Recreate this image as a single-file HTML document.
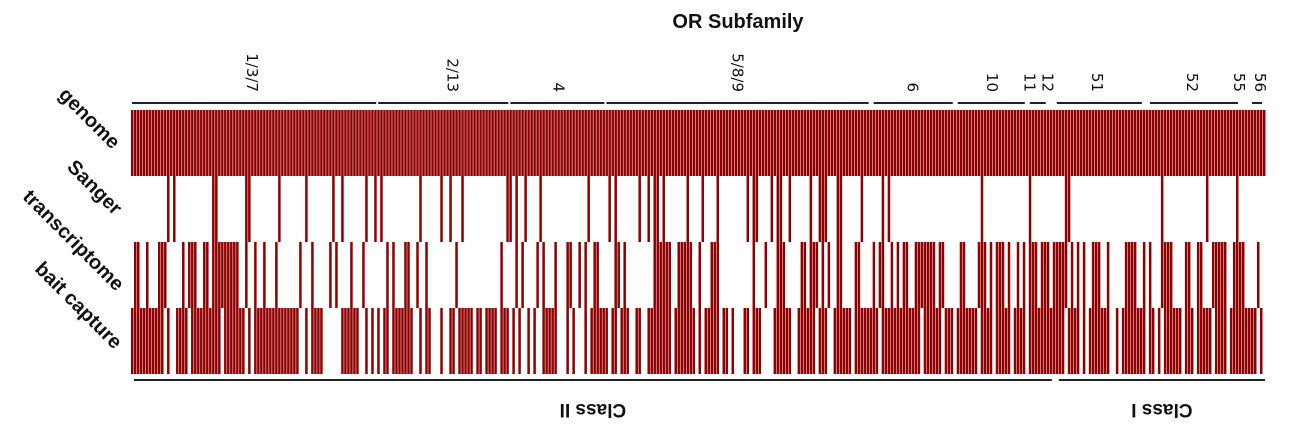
<!DOCTYPE html>
<html><head><meta charset="utf-8"><style>
html,body{margin:0;padding:0;background:#fff;}
svg{display:block;font-family:"Liberation Sans","DejaVu Sans",sans-serif;}
</style></head><body>
<svg id="chart" width="1300" height="441" viewBox="0 0 1300 441" xmlns="http://www.w3.org/2000/svg">
<text x="738" y="28" text-anchor="middle" font-size="20" font-weight="bold" fill="#111">OR Subfamily</text>
<g id="bars"></g>
<g id="labels"></g>
</svg>
<script>
const N = 378;
const rowNames = ["genome","Sanger","transcriptome","bait capture"];
const genomeRuns = [[0,377]];
const sangerRuns = [[12,12],[14,14],[27,28],[38,39],[49,49],[58,58],[67,67],[70,70],[78,78],[81,81],[83,83],[96,96],[103,103],[106,106],[110,110],[125,126],[128,128],[131,131],[136,136],[152,152],[159,159],[161,161],[169,169],[172,172],[174,175],[177,177],[185,185],[190,190],[195,195],[205,205],[207,208],[213,213],[215,216],[219,219],[226,226],[229,231],[235,236],[243,243],[250,250],[252,252],[283,283],[299,299],[311,312],[343,343],[358,358],[368,368]];
const transRuns = [[1,2],[5,5],[9,11],[17,17],[19,21],[24,25],[27,35],[38,38],[41,41],[44,44],[48,48],[56,56],[60,60],[66,66],[68,68],[73,73],[77,77],[85,85],[87,87],[91,92],[95,95],[98,98],[108,108],[123,123],[128,128],[130,130],[135,135],[137,137],[141,141],[145,146],[149,149],[151,151],[154,155],[161,162],[164,164],[174,179],[182,186],[189,189],[193,195],[207,207],[211,211],[215,217],[223,224],[226,228],[230,230],[232,232],[235,236],[241,242],[247,247],[249,250],[253,253],[255,255],[257,258],[261,267],[269,270],[276,277],[282,284],[286,286],[288,290],[292,292],[295,295],[297,297],[299,300],[301,301],[303,305],[307,311],[313,313],[315,315],[317,317],[320,322],[325,325],[331,334],[337,337],[339,339],[343,346],[351,352],[355,356],[360,364],[367,367],[368,370],[375,375]];
const baitRuns = [[0,10],[12,12],[15,18],[20,29],[31,35],[36,37],[39,39],[41,50],[51,55],[58,58],[60,63],[70,75],[78,78],[80,80],[82,82],[84,85],[87,93],[96,96],[98,99],[103,103],[106,107],[109,113],[115,116],[118,121],[123,125],[127,127],[129,129],[132,132],[134,134],[137,141],[145,145],[147,147],[151,151],[153,158],[160,161],[163,165],[168,169],[172,179],[181,187],[189,189],[191,195],[197,198],[200,200],[204,205],[207,209],[214,219],[222,227],[229,231],[234,239],[241,248],[250,262],[264,269],[271,273],[275,281],[283,286],[288,292],[294,297],[299,310],[312,315],[317,317],[319,325],[328,328],[330,337],[339,340],[342,342],[344,349],[351,353],[355,359],[361,364],[366,372],[373,374],[376,376]];
const subfamilies = ["1/3/7","2/13","4","5/8/9","6","10","11","12","51","52","55","56"];
const subCenter = [40.3,107,142.3,202,260.3,286.7,299.3,305.3,321.7,353.3,369,376];
const subStart = [0,82,126,158,247,275,299,null,308,339,null,373];
const subEnd   = [81,125,157,245,273,297,304,null,336,368,null,376];
const classNames = ["Class II","Class I"];
const classStart = [1,309];
const classEnd = [306,377];

const X0 = 131, X1 = 1266;
const colW = (X1 - X0) / N;
const xOf = i => X0 + i * colW;
const rowTop = [110,176,242,308], rowH = 66;
const NS = "http://www.w3.org/2000/svg";
const bars = document.getElementById('bars');
const labels = document.getElementById('labels');
const allRuns = [genomeRuns, sangerRuns, transRuns, baitRuns];
const rowKeys = ["genome","sanger","transcriptome","bait-capture"];

allRuns.forEach((runs, r) => {
  runs.forEach(([a,b]) => {
    for (let i = a; i <= b; i++) {
      const el = document.createElementNS(NS, 'rect');
      
      
      el.setAttribute('x', xOf(i));
      el.setAttribute('y', rowTop[r]);
      el.setAttribute('width', colW - 0.5);
      el.setAttribute('height', rowH);
      el.setAttribute('fill', '#900000');
      bars.appendChild(el);
    }
  });
});

const rowEnd = [[112,150],[114,216],[116,292],[114,350]];
rowNames.forEach((n, r) => {
  const t = document.createElementNS(NS, 'text');
  
  
  t.setAttribute('transform', `translate(${rowEnd[r][0]},${rowEnd[r][1]}) rotate(45)`);
  t.setAttribute('text-anchor', 'end');
  t.setAttribute('font-size', '20');
  t.setAttribute('font-weight', 'bold');
  t.setAttribute('fill', '#111');
  t.textContent = n;
  labels.appendChild(t);
});

subfamilies.forEach((s, k) => {
  if (subStart[k] !== null) {
    const x1 = xOf(subStart[k]) + 1, x2 = xOf(subEnd[k] + 1) - 1;
    const ln = document.createElementNS(NS, 'line');
    
    
    ln.setAttribute('x1', x1); ln.setAttribute('x2', x2);
    ln.setAttribute('y1', 103); ln.setAttribute('y2', 103);
    ln.setAttribute('stroke', '#222'); ln.setAttribute('stroke-width', 2);
    labels.appendChild(ln);
  }
  const t = document.createElementNS(NS, 'text');
  
  
  const cx = xOf(subCenter[k]);
  t.setAttribute('transform', `translate(${cx - 5},92) rotate(90)`);
  t.setAttribute('text-anchor', 'end');
  t.setAttribute('font-size', '15');
  t.setAttribute('font-family', '"DejaVu Sans", sans-serif');
  t.setAttribute('fill', '#111');
  t.textContent = s;
  labels.appendChild(t);
});

classNames.forEach((c, k) => {
  const x1 = xOf(classStart[k]), x2 = xOf(classEnd[k] + 1) - 1;
  const ln = document.createElementNS(NS, 'line');
  
  
  ln.setAttribute('x1', x1); ln.setAttribute('x2', x2);
  ln.setAttribute('y1', 380); ln.setAttribute('y2', 380);
  ln.setAttribute('stroke', '#222'); ln.setAttribute('stroke-width', 2);
  labels.appendChild(ln);
  const t = document.createElementNS(NS, 'text');
  
  
  t.setAttribute('transform', `translate(${(x1 + x2) / 2},404) rotate(180)`);
  t.setAttribute('text-anchor', 'middle');
  t.setAttribute('font-size', '19');
  t.setAttribute('font-weight', 'bold');
  t.setAttribute('fill', '#111');
  t.textContent = c;
  labels.appendChild(t);
});
</script>
</body></html>
